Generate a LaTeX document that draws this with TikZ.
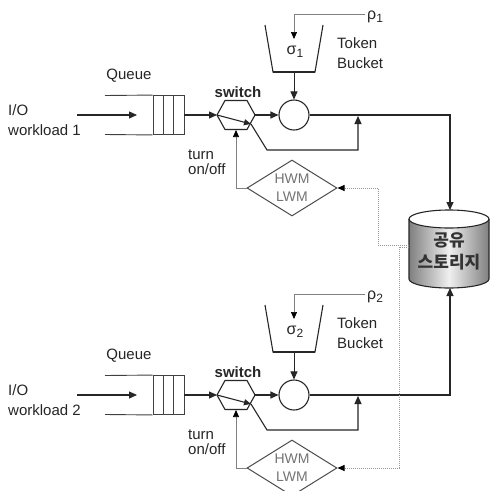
\documentclass[tikz,border=0pt]{standalone}
\usepackage{fontspec}
\setmainfont{Liberation Sans}
\newfontfamily\krfont{Noto Sans CJK KR}
\usetikzlibrary{arrows.meta,shapes.geometric}
\begin{document}
\begin{tikzpicture}[x=1pt,y=-1pt,
  every node/.style={inner sep=0pt, text=black!85},
  txt/.style={font=\fontsize{15}{20}\selectfont, align=left},
  flow/.style={line width=1.1pt, draw=black!85},
  qline/.style={line width=0.9pt, draw=black!75},
  tip/.style={-{Triangle[length=8pt,width=7pt]}},
  stip/.style={-{Triangle[length=7pt,width=6pt,color=black]}},
  ctrl/.style={line width=0.7pt, draw=black!50},
  dots/.style={line width=0.8pt, draw=black!40, dash pattern=on 1pt off 1pt},
  wmark/.style={diamond, draw=black!70, line width=1pt, aspect=1.6, minimum width=90pt, minimum height=56pt, text=black!55, font=\fontsize{14}{18}\selectfont, align=center},
  mixer/.style={circle, draw=black!85, line width=1.1pt, minimum size=30pt},
  queuebox/.style={draw=black!75, line width=0.9pt, minimum width=31pt, minimum height=39pt},
]
\useasboundingbox (0,0) rectangle (490,491);
\fill[white] (0,0) rectangle (490,491);
\foreach \i/\dy in {1/0,2/280}{
\begin{scope}[shift={(0,\dy)}]
  % labels
  \node[txt, anchor=west] (io\i) at (8,120) {I/O\\workload \i};
  \node[txt] (ql\i) at (129,76) {Queue};
  \node[font=\bfseries\fontsize{15}{18}\selectfont] (swl\i) at (238,92) {switch};
  \node[font=\fontsize{15}{15}\selectfont, align=left, anchor=west] (to\i) at (188,162) {turn\\on/off};
  \node[txt, anchor=west] (tb\i) at (337,53) {Token\\Bucket};
  % queue
  \node[queuebox] (q\i) at (168.5,115) {};
  \coordinate (qa\i) at (105,95.5);
  \coordinate (qb\i) at (105,134.5);
  \draw[qline] (qa\i) -- (q\i.north west);
  \draw[qline] (qb\i) -- (q\i.south west);
  \draw[qline] (163,95.5) -- (163,134.5) (173.5,95.5) -- (173.5,134.5);
  \coordinate (src\i) at (77,115);
  \coordinate (qin\i) at (137,115);
  \draw[flow,tip] (src\i) -- (qin\i);
  % switch
  \coordinate (swW\i) at (217,115);
  \coordinate (swE\i) at (255,115);
  \coordinate (swS\i) at (236,130);
  \coordinate (swT\i) at (251,124);
  \draw[flow] (swW\i) -- (225,100.5) -- (247,100.5) -- (swE\i) -- (247,129.5) -- (225,129.5) -- cycle;
  \draw[flow,tip] (q\i.east) -- (swW\i);
  \draw[flow,-{Triangle[length=7pt,width=6pt]}] (swW\i) -- (swT\i);
  % mixer
  \node[mixer] (c\i) at (294,115) {};
  \draw[flow,tip] (swE\i) -- (c\i.west);
  % bypass
  \coordinate (byp\i) at (358,116);
  \draw[flow,tip] (swT\i) -- (267,150) -- (358,150) -- (byp\i);
  % token bucket
  \draw[flow] (265,25) -- (273,72) -- (315,72) -- (323,25);
  \draw[line width=2pt, black!85] (273,72) -- (315,72);
  \coordinate (bk\i) at (294,72);
  \node[font=\fontsize{16}{16}\selectfont] (sig\i) at (295,52) {σ\raisebox{-3pt}{\fontsize{12}{12}\selectfont\i}};
  \draw[line width=0.9pt, black!85, tip] (bk\i) -- (c\i.north);
  \node[font=\fontsize{16}{16}\selectfont, anchor=west] (rho\i) at (367,17) {ρ\raisebox{-3pt}{\fontsize{12}{12}\selectfont\i}};
  \coordinate (rs\i) at (365,14);
  \coordinate (ri\i) at (294,39);
  \draw[ctrl,stip] (rs\i) -- (294,14) -- (ri\i);
  % watermark
  \node[wmark] (d\i) at (292,188) {HWM\\LWM};
  \draw[ctrl,stip] (d\i.west) -- (236,188) -- (swS\i);
\end{scope}
}
% shared storage
\shade[left color=black!50, right color=black!50, middle color=black!6]
  (409,219) -- (409,279) arc[start angle=180, end angle=360, x radius=40pt, y radius=9pt]
  -- (489,219) arc[start angle=0, end angle=180, x radius=40pt, y radius=9pt] -- cycle;
\fill[white] (449,219) ellipse[x radius=40pt, y radius=9pt];
\draw[flow] (409,219) -- (409,279) arc[start angle=180, end angle=360, x radius=40pt, y radius=9pt] -- (489,219);
\draw[flow] (449,219) ellipse[x radius=40pt, y radius=9pt];
\node[font=\krfont\bfseries\fontsize{17}{22}\selectfont, align=center, text=black!80] (st) at (449,251) {공유\\스토리지};
\coordinate (stT) at (450,210);
\coordinate (stB) at (450,288);
\coordinate (stL1) at (409,245);
\coordinate (stL2) at (409,247);
\draw[flow,tip] (c1.east) -- (450,115) -- (stT);
\draw[flow,tip] (c2.east) -- (450,395) -- (stB);
\draw[dots,stip] (stL1) -- (378,245) -- (378,188) -- (d1.east);
\draw[dots,stip] (stL2) -- (399,247) -- (399,468) -- (d2.east);
\end{tikzpicture}
\end{document}
